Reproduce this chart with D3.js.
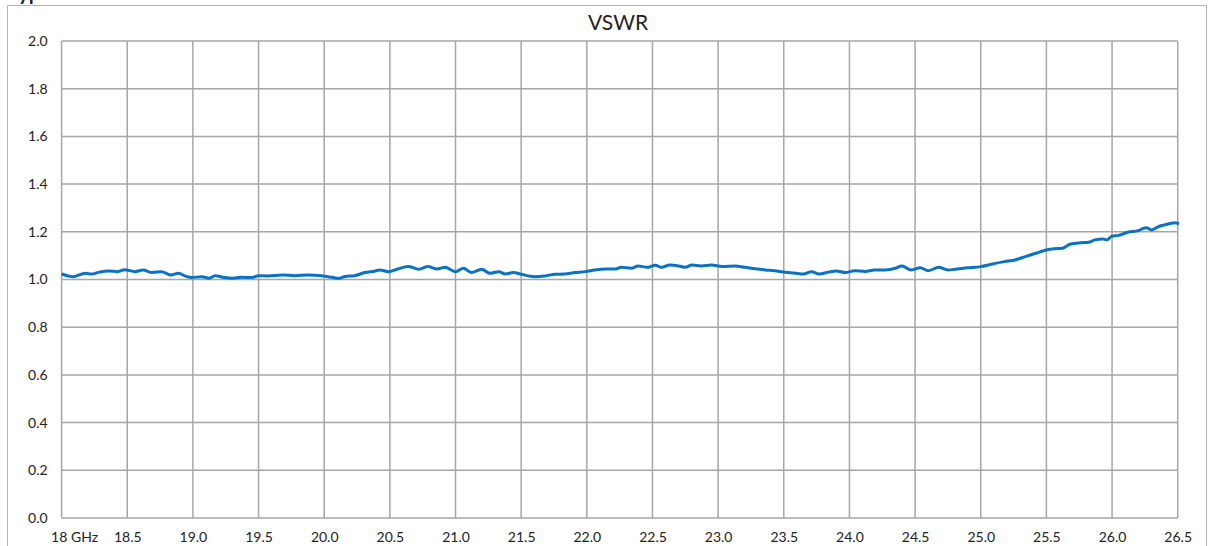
<!DOCTYPE html>
<html><head><meta charset="utf-8">
<script src="https://cdn.jsdelivr.net/npm/d3@7"></script>
<style>
html,body{margin:0;padding:0;background:#fff;}
svg{display:block;font-family:Lato,"Open Sans",sans-serif;}
</style></head>
<body>
<svg id="c" width="1209" height="546"></svg>
<script>
const titleText = "VSWR";
const headText = "Typical VSWR";
const xTicks = [18, 18.5, 19, 19.5, 20, 20.5, 21, 21.5, 22, 22.5, 23, 23.5, 24, 24.5, 25, 25.5, 26, 26.5];
const xTickLabels = ["18 GHz","18.5","19.0","19.5","20.0","20.5","21.0","21.5","22.0","22.5","23.0","23.5","24.0","24.5","25.0","25.5","26.0","26.5"];
const yTicks = [0, 0.2, 0.4, 0.6, 0.8, 1.0, 1.2, 1.4, 1.6, 1.8, 2.0];
const freq = [18.00,18.09,18.18,18.23,18.28,18.36,18.43,18.48,18.56,18.62,18.69,18.76,18.83,18.89,18.94,18.99,19.07,19.12,19.17,19.24,19.30,19.37,19.45,19.50,19.57,19.68,19.78,19.88,19.98,20.06,20.11,20.16,20.23,20.31,20.39,20.42,20.49,20.56,20.64,20.72,20.79,20.86,20.92,21.00,21.06,21.12,21.20,21.26,21.33,21.38,21.44,21.50,21.60,21.68,21.76,21.83,21.91,21.99,22.06,22.14,22.22,22.26,22.34,22.39,22.46,22.52,22.57,22.63,22.70,22.75,22.80,22.87,22.95,23.03,23.13,23.20,23.28,23.36,23.43,23.51,23.58,23.65,23.71,23.77,23.84,23.90,23.97,24.04,24.12,24.19,24.27,24.35,24.40,24.47,24.54,24.60,24.68,24.75,24.82,24.90,25.00,25.08,25.18,25.26,25.34,25.42,25.50,25.56,25.62,25.68,25.76,25.82,25.87,25.93,25.96,26.00,26.05,26.12,26.20,26.24,26.26,26.30,26.35,26.40,26.45,26.48,26.51];
const vswr = [1.023,1.012,1.026,1.023,1.030,1.036,1.033,1.041,1.033,1.040,1.029,1.033,1.019,1.026,1.015,1.008,1.012,1.005,1.016,1.008,1.005,1.009,1.008,1.016,1.015,1.019,1.016,1.019,1.016,1.009,1.005,1.013,1.016,1.029,1.036,1.040,1.033,1.044,1.054,1.043,1.054,1.044,1.051,1.033,1.047,1.029,1.043,1.026,1.033,1.023,1.029,1.022,1.012,1.015,1.022,1.023,1.029,1.033,1.040,1.044,1.044,1.051,1.047,1.057,1.051,1.060,1.051,1.061,1.057,1.051,1.061,1.057,1.061,1.055,1.057,1.051,1.045,1.040,1.037,1.030,1.027,1.023,1.033,1.023,1.031,1.036,1.029,1.037,1.034,1.040,1.040,1.047,1.057,1.040,1.049,1.037,1.051,1.040,1.044,1.049,1.054,1.064,1.075,1.082,1.096,1.110,1.124,1.129,1.131,1.148,1.154,1.156,1.166,1.170,1.166,1.182,1.185,1.198,1.205,1.215,1.217,1.208,1.221,1.229,1.236,1.238,1.233];

const svg = d3.select("#c");
const m = {left: 61.6, right: 1177.7, top: 41, bottom: 518};
const x = d3.scaleLinear().domain([18, 26.5]).range([m.left, m.right]);
const y = d3.scaleLinear().domain([0, 2]).range([m.bottom, m.top]);

// outer frame
svg.append("rect").attr("x", 7.5).attr("y", 5.5).attr("width", 1199).attr("height", 600)
  .attr("fill", "#fff").attr("stroke", "#b4b4b4").attr("stroke-width", 1);

// heading (only its lowest part is inside the picture, as in the reference)
svg.append("text").attr("x", 8).attr("y", -0.5).attr("font-weight", "bold").attr("font-size", 20)
  .attr("fill", "#222").text(headText);

// gridlines
const grid = svg.append("g");
grid.selectAll("line.v").data(xTicks).join("line").attr("class", "v")
  .attr("x1", d => x(d)).attr("x2", d => x(d)).attr("y1", m.top).attr("y2", m.bottom)
  .attr("stroke", "#a6a6a6").attr("stroke-width", 1.5);
grid.selectAll("line.h").data(yTicks).join("line").attr("class", "h")
  .attr("x1", m.left).attr("x2", m.right).attr("y1", d => y(d)).attr("y2", d => y(d))
  .attr("stroke", "#a6a6a6").attr("stroke-width", 1.5);

// y axis labels
const yAxis = d3.axisLeft(y).tickValues(yTicks).tickFormat(d3.format(".1f")).tickSize(0).tickPadding(14);
const gy = svg.append("g").attr("transform", `translate(${m.left},0)`).call(yAxis);
gy.select(".domain").remove();
gy.selectAll("text").attr("font-size", 14).attr("fill", "#222").attr("font-family", "Lato");

// x axis labels
const xAxis = d3.axisBottom(x).tickValues(xTicks).tickFormat((d, i) => xTickLabels[i]).tickSize(0).tickPadding(14);
const gx = svg.append("g").attr("transform", `translate(0,${m.bottom})`).call(xAxis);
gx.select(".domain").remove();
gx.selectAll("text").attr("font-size", 14).attr("fill", "#222").attr("font-family", "Lato");
gx.selectAll(".tick").filter((d, i) => i === 0).select("text").attr("text-anchor", "start").attr("x", -11);

// title
svg.append("text").attr("x", 618).attr("y", 30).attr("text-anchor", "middle")
  .attr("font-size", 21).attr("fill", "#222").text(titleText);

// line
const data = freq.map((f, i) => ({f, v: vswr[i]}));
const line = d3.line().x(d => x(d.f)).y(d => y(d.v)).curve(d3.curveMonotoneX);
svg.append("path").datum(data).attr("d", line).attr("fill", "none")
  .attr("stroke", "#0a72c4").attr("stroke-width", 3).attr("stroke-linejoin", "round");
</script>
</body></html>
